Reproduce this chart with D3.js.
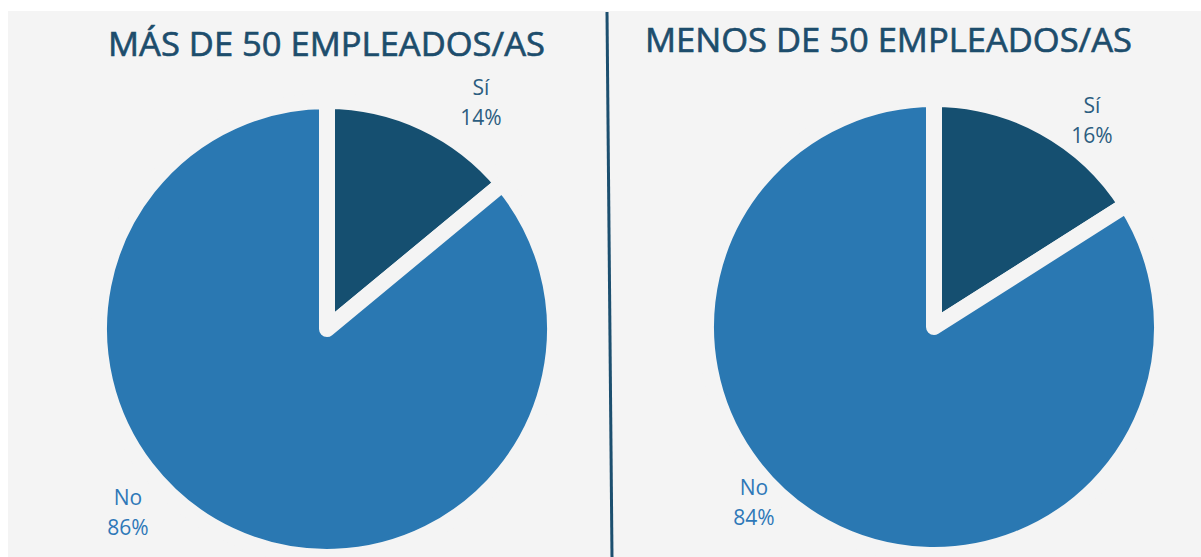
<!DOCTYPE html>
<html>
<head>
    <meta charset="utf-8">
    <title>Empleados/as</title>
    <script src="https://d3js.org/d3.v7.min.js"></script>
    <style>
        body {
            margin: 0;
            background-color: #ffffff;
            font-family: "Open Sans", Arial, sans-serif;
        }
        svg { display: block; }
    </style>
</head>
<body>
    <div id="chart"></div>
    <script>
        // datos
        const categories = ['Sí', 'No'];
        const masDe50 = [14, 86];
        const menosDe50 = [16, 84];
        const titles = ['MÁS DE 50 EMPLEADOS/AS', 'MENOS DE 50 EMPLEADOS/AS'];

        const width = 1201;
        const height = 557;
        const bg = '#f4f4f4';
        const colors = d3.scaleOrdinal().domain(categories).range(['#154f70', '#2a78b2']);
        const labelColors = { 'Sí': '#2c5d80', 'No': '#2e78b8' };

        const svg = d3.select('#chart')
            .append('svg')
            .attr('width', width)
            .attr('height', height);

        svg.append('rect')
            .attr('x', 8).attr('y', 11)
            .attr('width', width - 8).attr('height', height - 11)
            .attr('fill', bg);

        // linea separadora
        svg.append('line')
            .attr('x1', 607).attr('y1', 12)
            .attr('x2', 612).attr('y2', height)
            .attr('stroke', '#1c4f6f')
            .attr('stroke-width', 3);

        const panels = [
            { values: masDe50, title: titles[0], cx: 327, cy: 329, titleX: 326.5, titleY: 56, titleW: 437,
              labels: { 'Sí': [154, -234], 'No': [-199, 176] } },
            { values: menosDe50, title: titles[1], cx: 934, cy: 327, titleX: 888.5, titleY: 52, titleW: 487,
              labels: { 'Sí': [158, -214], 'No': [-180, 168] } }
        ];

        const radius = 220;
        const gap = 16;

        const pie = d3.pie().sort(null).value(d => d.value);
        const arc = d3.arc().innerRadius(0).outerRadius(radius + gap / 2);

        panels.forEach(p => {
            const data = categories.map((c, i) => ({ cat: c, value: p.values[i] }));
            const g = svg.append('g').attr('transform', `translate(${p.cx},${p.cy})`);

            g.selectAll('path')
                .data(pie(data))
                .join('path')
                .attr('d', arc)
                .attr('fill', d => colors(d.data.cat))
                .attr('stroke', bg)
                .attr('stroke-width', gap)
                .attr('stroke-linejoin', 'round');

            // etiquetas
            data.forEach(d => {
                const [dx, dy] = p.labels[d.cat];
                const t = g.append('text')
                    .attr('text-anchor', 'middle')
                    .attr('fill', labelColors[d.cat])
                    .style('font-size', '21px');
                t.append('tspan').attr('x', dx).attr('y', dy).text(d.cat);
                t.append('tspan').attr('x', dx).attr('y', dy + 30).text(d.value + '%');
            });

            svg.append('text')
                .attr('x', p.titleX)
                .attr('y', p.titleY)
                .attr('text-anchor', 'middle')
                .attr('fill', '#1d4d6c')
                .attr('stroke', '#1d4d6c')
                .attr('stroke-width', 0.6)
                .attr('textLength', p.titleW)
                .attr('lengthAdjust', 'spacingAndGlyphs')
                .style('font-size', '32px')
                .text(p.title);
        });
    </script>
</body>
</html>
